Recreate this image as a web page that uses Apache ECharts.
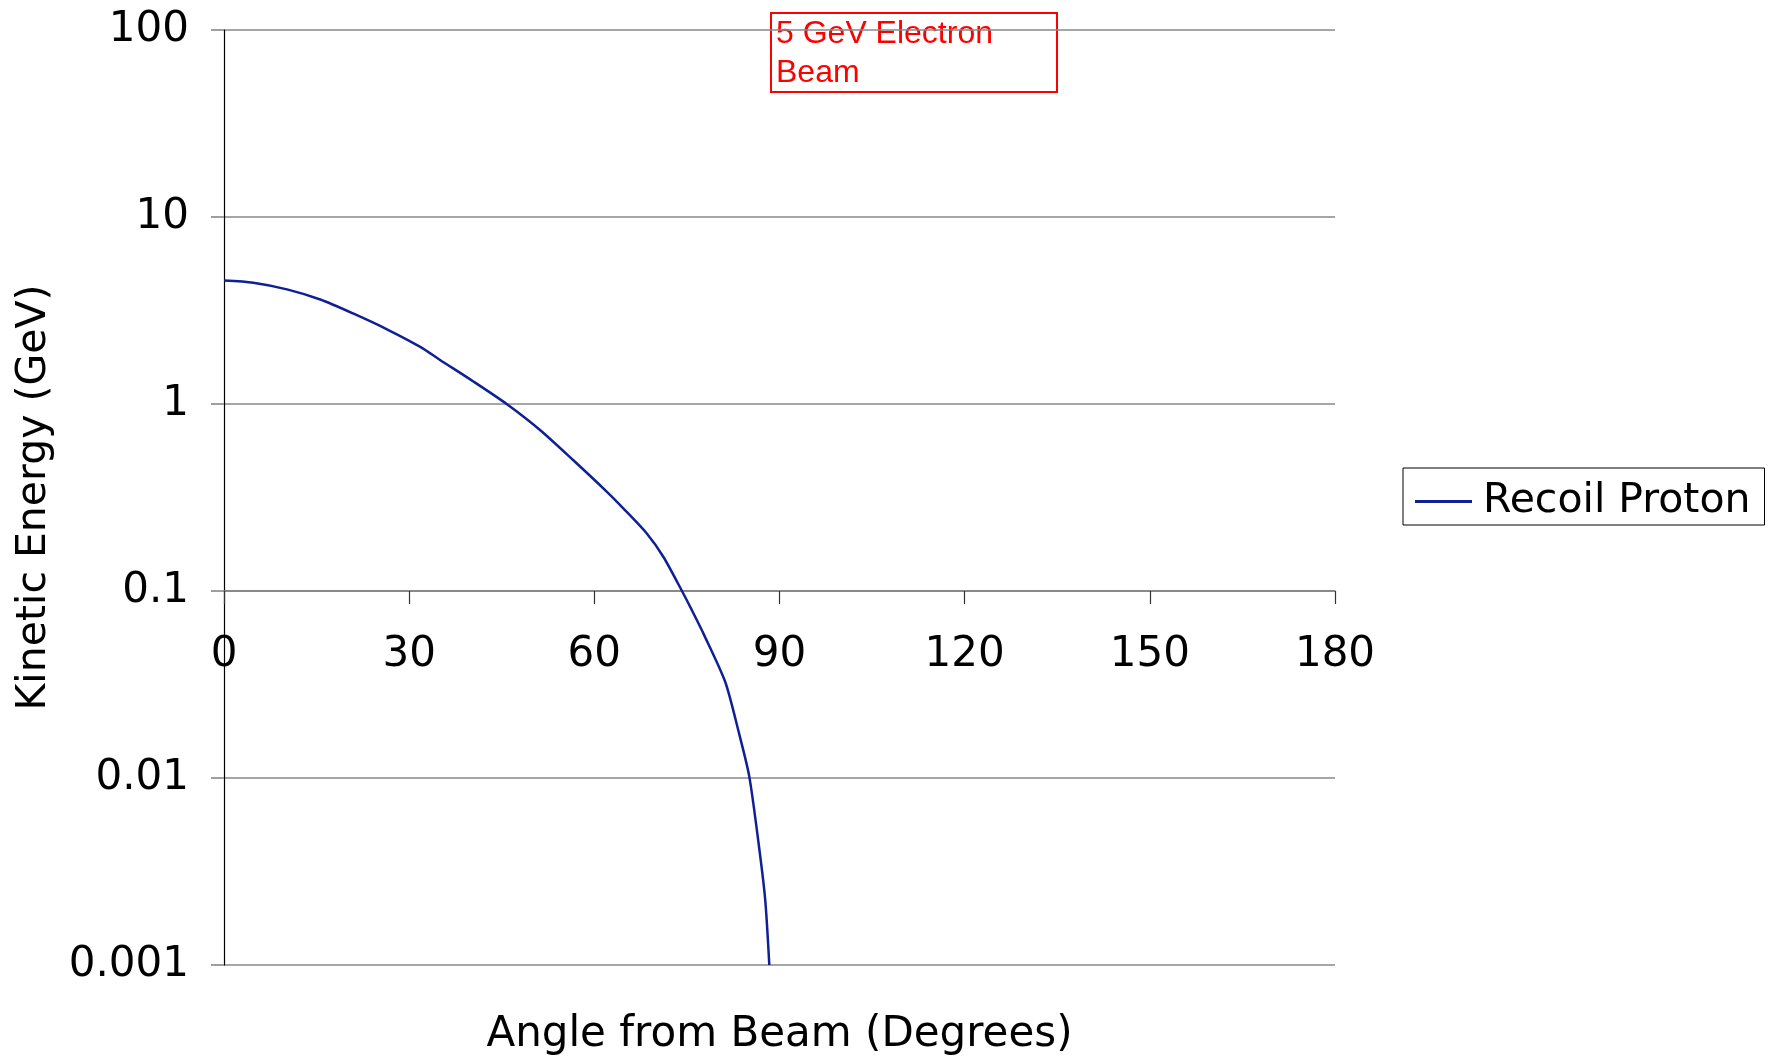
<!DOCTYPE html>
<html>
<head>
<meta charset="utf-8">
<script src="https://cdn.jsdelivr.net/npm/echarts@6/dist/echarts.min.js"></script>
<style>
html,body{margin:0;padding:0;background:#fff;}
#chart{width:1775px;height:1061px;}
</style>
</head>
<body>
<div id="chart"></div>
<script>
// Data
var seriesName = 'Recoil Proton';
var angles   = [0, 4.75, 10.2, 15.6, 20.9, 26.4, 31.8, 35.0, 40.4, 45.8, 51.2, 56.6, 62.0, 65.0, 68.5, 71.2, 74.2, 75.8, 77.7, 81.2, 83.3, 85.1, 86.8, 87.7, 88.35];
var energies = [4.57, 4.45, 4.10, 3.62, 3.05, 2.51, 2.02, 1.72, 1.32, 1.00, 0.726, 0.50, 0.34, 0.27, 0.203, 0.152, 0.100, 0.079, 0.059, 0.0327, 0.0181, 0.0102, 0.0040, 0.0022, 0.001];
var xTickLabels = ['0', '30', '60', '90', '120', '150', '180'];
var yTickLabels = ['0.001', '0.01', '0.1', '1', '10', '100'];
var xTitle = 'Angle from Beam (Degrees)';
var yTitle = 'Kinetic Energy (GeV)';
var noteText = '5 GeV Electron\nBeam';

var data = angles.map(function (a, i) { return [a, energies[i]]; });
var FONT = 'DejaVu Sans';

var chart = echarts.init(document.getElementById('chart'), null, { renderer: 'canvas' });
chart.setOption({
  animation: false,
  backgroundColor: '#fff',
  grid: [
    { left: 224, right: 440, top: 30, bottom: 96, containLabel: false },
    { left: 224, right: 440, top: 30, height: 561, containLabel: false }
  ],
  xAxis: [
    {
      gridIndex: 0, type: 'value', min: 0, max: 180, interval: 30,
      axisLine: { show: false }, axisTick: { show: false }, axisLabel: { show: false },
      splitLine: { show: false },
      name: xTitle, nameLocation: 'middle', nameGap: 49,
      nameTextStyle: { fontFamily: FONT, fontSize: 42, color: '#000' }
    },
    {
      gridIndex: 1, type: 'value', min: 0, max: 180, interval: 30,
      axisLine: { show: true, lineStyle: { color: '#808080', width: 1.5 } },
      axisTick: { show: true, inside: false, length: 13, lineStyle: { color: '#333', width: 1.2 } },
      axisLabel: {
        show: true, margin: 43, fontFamily: FONT, fontSize: 42, color: '#000',
        showMinLabel: true, showMaxLabel: true,
        formatter: function (v) { return xTickLabels[Math.round(v / 30)]; }
      },
      splitLine: { show: false }
    }
  ],
  yAxis: [
    {
      gridIndex: 0, type: 'log', logBase: 10, min: 0.001, max: 100, splitNumber: 5,
      axisLine: { show: true, lineStyle: { color: '#000', width: 1.2 } },
      axisTick: { show: true, inside: false, length: 13, lineStyle: { color: '#808080', width: 1.5 } },
      axisLabel: {
        margin: 35, fontFamily: FONT, fontSize: 42, color: '#000',
        formatter: function (v) { return yTickLabels[Math.round(Math.log10(v)) + 3]; }
      },
      splitLine: { show: true, lineStyle: { color: '#888', width: 1.5 } },
      minorTick: { show: false }, minorSplitLine: { show: false },
      name: yTitle, nameLocation: 'middle', nameGap: 169, nameRotate: 90,
      nameTextStyle: { fontFamily: FONT, fontSize: 41, color: '#000' }
    },
    {
      gridIndex: 1, type: 'value', min: 0, max: 1, show: false
    }
  ],
  legend: {
    show: true,
    data: [seriesName],
    orient: 'vertical',
    left: 1403, top: 468,
    padding: [13, 14, 3, 12],
    borderColor: '#000', borderWidth: 1,
    icon: 'rect', itemWidth: 57, itemHeight: 3,
    textStyle: { fontFamily: FONT, fontSize: 41, color: '#000', padding: [0, 0, 0, 6] }
  },
  graphic: [
    {
      type: 'group', left: 770, top: 12,
      children: [
        { type: 'rect', shape: { x: 0, y: 0, width: 286, height: 79 },
          style: { fill: '#fff', stroke: '#ff0000', lineWidth: 2 } },
        { type: 'text', x: 5, y: 2,
          style: { text: noteText, fill: '#ff0000', font: '32px "Liberation Sans", Arial, sans-serif', lineHeight: 39 } }
      ]
    }
  ],
  series: [
    {
      name: seriesName, type: 'line', xAxisIndex: 0, yAxisIndex: 0,
      data: data, symbol: 'none', smooth: 0.25,
      lineStyle: { color: '#0f1f96', width: 2.5 },
      itemStyle: { color: '#0f1f96' }
    }
  ]
});
</script>
</body>
</html>
